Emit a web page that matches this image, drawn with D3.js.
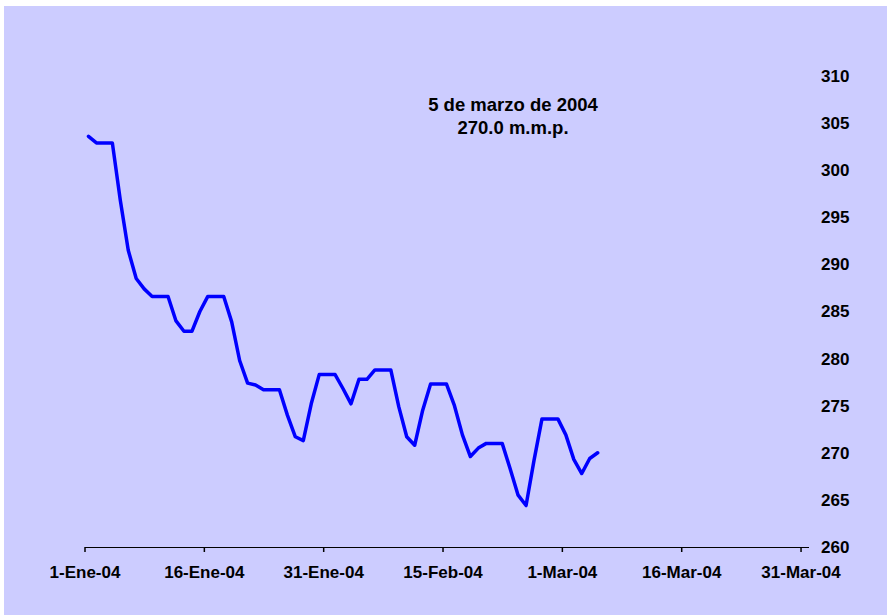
<!DOCTYPE html>
<html>
<head>
<meta charset="utf-8">
<script src="https://cdn.jsdelivr.net/npm/d3@7"></script>
<style>
  body { margin: 0; background: #fff; }
</style>
</head>
<body>
<div id="chart"></div>
<script>
// Daily series, 1-Ene-04 .. 5-Mar-04 (weekends repeat the Friday value)
var startDate = "2004-01-01";
var values = [303.6, 302.9, 302.9, 302.9, 296.8, 291.5, 288.5, 287.4, 286.6, 286.6,
              286.6, 284.0, 282.9, 282.9, 285.0, 286.6, 286.6, 286.6, 283.9, 279.8,
              277.4, 277.2, 276.7, 276.7, 276.7, 274.0, 271.7, 271.3, 275.2, 278.3,
              278.3, 278.3, 276.8, 275.2, 277.8, 277.8, 278.8, 278.8, 278.8, 274.9,
              271.7, 270.8, 274.5, 277.3, 277.3, 277.3, 275.0, 271.9, 269.6, 270.5,
              271.0, 271.0, 271.0, 268.3, 265.5, 264.4, 269.2, 273.6, 273.6, 273.6,
              271.9, 269.3, 267.8, 269.4, 270.0];
var tickDates = ["2004-01-01", "2004-01-16", "2004-01-31", "2004-02-15", "2004-03-01", "2004-03-16", "2004-03-31"];
var tickLabels = ["1-Ene-04", "16-Ene-04", "31-Ene-04", "15-Feb-04", "1-Mar-04", "16-Mar-04", "31-Mar-04"];
var yTicks = [260, 265, 270, 275, 280, 285, 290, 295, 300, 305, 310];
var noteLines = ["5 de marzo de 2004", "270.0 m.m.p."];

var W = 887, H = 615,
    font_family = "Arial, 'Liberation Sans', sans-serif";

var parse = d3.utcParse("%Y-%m-%d");
var t0 = parse(startDate);
var data = values.map(function(v, i) {
  return {date: d3.utcHour.offset(d3.utcDay.offset(t0, i), 12), value: v};
});

var svg = d3.select("#chart").append("svg")
  .attr("width", W)
  .attr("height", H);

// background
svg.append("rect")
  .attr("x", 4).attr("y", 6)
  .attr("width", W - 4).attr("height", H - 6)
  .attr("fill", "#CCCCFF");

// Scales
var x = d3.scaleUtc()
  .domain([parse("2004-01-01"), parse("2004-04-01")])
  .range([84.5, 808.5]);
var y = d3.scaleLinear()
  .domain([260, 310])
  .range([547, 76]);

// X axis
var xAxis = d3.axisBottom(x)
  .tickValues(tickDates.map(parse))
  .tickFormat(function(d, i) { return tickLabels[i]; })
  .tickSizeInner(5)
  .tickSizeOuter(0)
  .tickPadding(14);

var gx = svg.append("g")
  .attr("transform", "translate(0," + y(260) + ")")
  .call(xAxis);
gx.select(".domain").attr("stroke", "#000").attr("stroke-width", 1);
gx.selectAll(".tick line").attr("stroke", "#000").attr("stroke-width", 1.5);
gx.selectAll(".tick text")
  .attr("fill", "#000")
  .style("font-family", font_family)
  .style("font-size", "17px")
  .style("font-weight", "bold");

// Y axis (labels only, at right)
var yAxis = d3.axisRight(y)
  .tickValues(yTicks)
  .tickSize(0)
  .tickPadding(0);

var gy = svg.append("g")
  .attr("transform", "translate(821,0)")
  .call(yAxis);
gy.select(".domain").remove();
gy.selectAll(".tick text")
  .attr("fill", "#000")
  .style("font-family", font_family)
  .style("font-size", "17px")
  .style("font-weight", "bold");

// Line
var line = d3.line()
  .x(function(d) { return x(d.date); })
  .y(function(d) { return y(d.value); });

svg.append("path")
  .datum(data)
  .attr("d", line)
  .attr("fill", "none")
  .attr("stroke", "#0000FF")
  .attr("stroke-width", 3.5)
  .attr("stroke-linejoin", "round")
  .attr("stroke-linecap", "round");

// Annotation
svg.append("g").selectAll("text")
  .data(noteLines)
  .enter().append("text")
    .attr("x", 513)
    .attr("y", function(d, i) { return 111 + i * 23; })
    .style("text-anchor", "middle")
    .style("font-family", font_family)
    .style("font-size", "18.5px")
    .style("font-weight", "bold")
    .attr("fill", "#000")
    .text(function(d) { return d; });
</script>
</body>
</html>
